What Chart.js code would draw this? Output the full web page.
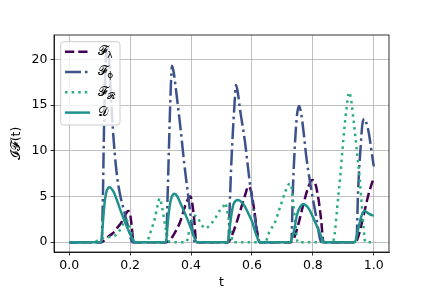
<!DOCTYPE html>
<html><head><meta charset="utf-8">
<script src="https://cdn.jsdelivr.net/npm/chart.js@4.4.0/dist/chart.umd.min.js"></script>
<style>html,body{margin:0;padding:0;background:#fff;}canvas{display:block}</style>
</head><body>
<canvas id="c" width="432" height="288"></canvas>
<script>
const xTicks=[0,0.2,0.4,0.6,0.8,1.0];
const yTicks=[0,5,10,15,20];

const lambdaT=[0,0.106,0.128,0.144,0.161,0.172,0.183,0.193,0.199,0.205,0.211,0.318,0.335,0.348,0.364,0.38,0.391,0.398,0.405,0.411,0.417,0.522,0.535,0.55,0.565,0.578,0.588,0.597,0.607,0.617,0.625,0.726,0.74,0.755,0.77,0.785,0.797,0.808,0.818,0.827,0.835,0.94,0.948,0.965,0.981,1.0];
const lambdaV=[0,0,0.6,1.0,1.7,2.2,2.9,3.4,3.2,1.8,0,0,0.4,1.1,2.2,3.9,4.8,5.0,4.0,2.2,0,0,0.8,2.2,3.8,5.2,6.1,5.6,3.6,1.2,0,0,0.6,2.3,4.3,6.0,6.8,6.4,4.8,2.5,0,0,0.5,2.7,5.0,7.1];

const phiT=[0,0.106,0.110,0.114,0.118,0.122,0.126,0.131,0.137,0.143,0.156,0.167,0.178,0.194,0.207,0.318,0.323,0.328,0.333,0.3375,0.343,0.353,0.366,0.378,0.391,0.402,0.413,0.522,0.5275,0.533,0.542,0.5475,0.553,0.561,0.577,0.593,0.61,0.62,0.626,0.729,0.735,0.743,0.749,0.755,0.761,0.768,0.779,0.796,0.812,0.823,0.828,0.943,0.9486,0.957,0.963,0.970,0.977,0.984,0.992,1.0];
const phiV=[0,0,4,12,18,21,21.6,20,16,12.5,7.5,5.2,3.7,1.6,0,0,5,11,16.5,19.3,18.6,16,12.3,8.5,5,2,0,0,4.5,9.2,14.7,17.2,16.5,14.5,11,6.5,2.6,0.5,0,0,6.3,11.8,14.2,14.9,14.2,12.5,9.2,5.5,2.6,0.4,0,0,5.7,10.5,13,13.5,12.9,11.9,10.1,8.3];

const rT=[0,0.08,0.095,0.117,0.14,0.154,0.166,0.177,0.188,0.198,0.207,0.215,0.255,0.264,0.273,0.281,0.29,0.297,0.305,0.315,0.325,0.332,0.385,0.391,0.401,0.41,0.419,0.43,0.446,0.457,0.479,0.495,0.506,0.512,0.52,0.53,0.538,0.645,0.653,0.66,0.676,0.687,0.698,0.709,0.72,0.727,0.735,0.743,0.75,0.865,0.872,0.879,0.885,0.89,0.9,0.91,0.919,0.926,0.932,0.943,0.954,0.962,0.968,0.972,1.0];
const rV=[0,0,0.2,0.5,0.6,0.8,1.3,2.0,2.4,1.8,0.6,0,0,0.8,1.7,2.6,4.0,4.8,3.8,1.8,0.3,0,0,0.8,2.0,2.9,2.8,2.2,1.5,1.7,2.6,3.5,3.9,4.3,3.2,1.2,0,0,0.8,1.3,2.2,3.3,4.4,5.5,6.3,6.4,4.5,2.0,0,0,1.0,3.5,5.5,7.2,11.2,14.5,16.4,15.5,13.8,10.5,6.8,3.5,1.0,0,0];

const dT=[0,0.106,0.110,0.1155,0.121,0.127,0.1335,0.142,0.150,0.166,0.183,0.199,0.210,0.213,0.318,0.322,0.328,0.335,0.346,0.355,0.366,0.38,0.4,0.412,0.419,0.522,0.528,0.539,0.555,0.568,0.577,0.59,0.6,0.61,0.62,0.625,0.726,0.737,0.748,0.759,0.769,0.786,0.802,0.819,0.833,0.836,0.938,0.948,0.959,0.969,0.98,0.99,1.0];
const dV=[0,0,1.9,4.1,5.35,5.9,6.0,5.7,5.2,3.7,2.2,0.95,0.2,0,0,1.5,3.5,4.8,5.3,5.0,4.2,3.15,1.5,0.4,0,0,1.9,4.1,4.6,4.3,3.9,3.0,2.3,1.2,0.3,0,0,1.1,3.0,3.9,4.15,3.7,2.6,1.3,0.2,0,0,1.3,2.8,3.45,3.2,3.0,2.9];

const seriesLabels=['𝓕λ','𝓕ϕ','𝓕𝓡','𝒟'];
const mainChars=['𝓕','𝓕','𝓕','𝒟'];
const subChars=['λ','ϕ','𝓡',''];
const yTitle='𝓘𝓕(t)';

const FONT='DejaVu Sans';
const toXY=(t,v)=>t.map((x,i)=>({x:x,y:v[i]}));
const LW=2.5;

const spinePlugin={id:'spines',afterDatasetsDraw(chart){
  const ctx=chart.ctx,a=chart.chartArea;
  ctx.save();ctx.strokeStyle='#000';ctx.lineWidth=0.8;ctx.setLineDash([]);
  ctx.strokeRect(a.left,a.top,a.right-a.left,a.bottom-a.top);
  ctx.restore();
}};
const legendPlugin={id:'mplLegend',afterDraw(chart){
  const ctx=chart.ctx,a=chart.chartArea;
  const x0=a.left+6.7,y0=a.top+6.7,w=59.3,h=83.3;
  ctx.save();
  ctx.beginPath();ctx.roundRect(x0,y0,w,h,3);
  ctx.fillStyle='rgba(255,255,255,0.8)';ctx.fill();
  ctx.strokeStyle='#cccccc';ctx.lineWidth=1;ctx.stroke();
  [0,1,2,3].forEach((i,row)=>{
    const ds=chart.data.datasets[i];
    const y=y0+10+row*20.3;
    ctx.beginPath();ctx.setLineDash(ds.borderDash||[]);
    ctx.strokeStyle=ds.borderColor;ctx.lineWidth=ds.borderWidth;ctx.lineCap='butt';
    ctx.moveTo(x0+4.3,y);ctx.lineTo(x0+29.3,y);ctx.stroke();
    ctx.setLineDash([]);
    ctx.fillStyle='#000';ctx.textBaseline='middle';ctx.textAlign='left';
    ctx.font='13px "'+FONT+'"';
    const tx=x0+37.5;
    ctx.fillText(mainChars[i],tx,y);
    const mw=ctx.measureText(mainChars[i]).width;
    if(subChars[i]){ctx.font='9px "'+FONT+'"';ctx.fillText(subChars[i],tx+mw-1,y+4);}
  });
  ctx.restore();
}};

new Chart(document.getElementById('c'),{
  type:'line',
  data:{datasets:[
    {label:seriesLabels[0],data:toXY(lambdaT,lambdaV),borderColor:'#440154',borderWidth:LW,borderDash:[9.25,4],order:3},
    {label:seriesLabels[1],data:toXY(phiT,phiV),borderColor:'#3b528b',borderWidth:LW,borderDash:[16,4,2.5,4],order:2},
    {label:seriesLabels[2],data:toXY(rT,rV),borderColor:'#2aae80',borderWidth:LW,borderDash:[2.5,4.1],order:1},
    {label:seriesLabels[3],data:toXY(dT,dV),borderColor:'#21918c',borderWidth:LW,order:0}
  ]},
  options:{
    responsive:false,animation:false,devicePixelRatio:1,
    layout:{padding:{left:0,right:43,top:35,bottom:0}},
    elements:{point:{radius:0},line:{cubicInterpolationMode:'monotone',fill:false,borderCapStyle:'butt',borderJoinStyle:'round'}},
    plugins:{legend:{display:false},tooltip:{enabled:false}},
    scales:{
      x:{type:'linear',min:-0.05,max:1.05,
        afterBuildTicks:s=>{s.ticks=xTicks.map(v=>({value:v}));},
        afterFit:s=>{s.height=36;},
        ticks:{callback:v=>Number(v).toFixed(1),font:{family:FONT,size:12.5},color:'#000',padding:3,maxRotation:0,autoSkip:false},
        grid:{color:'#b0b0b0',lineWidth:0.8,tickLength:3.5,tickColor:'#000',tickWidth:0.8},
        border:{display:true,color:'#000',width:0.8},
        title:{display:true,text:'t',font:{family:FONT,size:12.5,lineHeight:1.0},color:'#000',padding:{top:0,bottom:-1}}
      },
      y:{type:'linear',min:-1.08,max:22.68,
        afterBuildTicks:s=>{s.ticks=yTicks.map(v=>({value:v}));},
        afterFit:s=>{s.width=54;},
        ticks:{callback:v=>String(v),font:{family:FONT,size:12.5},color:'#000',padding:3,autoSkip:false},
        grid:{color:'#b0b0b0',lineWidth:0.8,tickLength:3.5,tickColor:'#000',tickWidth:0.8},
        border:{display:true,color:'#000',width:0.8},
        title:{display:true,text:yTitle,font:{family:FONT,size:12.5,lineHeight:1.0},color:'#000',padding:{top:10,bottom:0}}
      }
    }
  },
  plugins:[spinePlugin,legendPlugin]
});
</script>
</body></html>
